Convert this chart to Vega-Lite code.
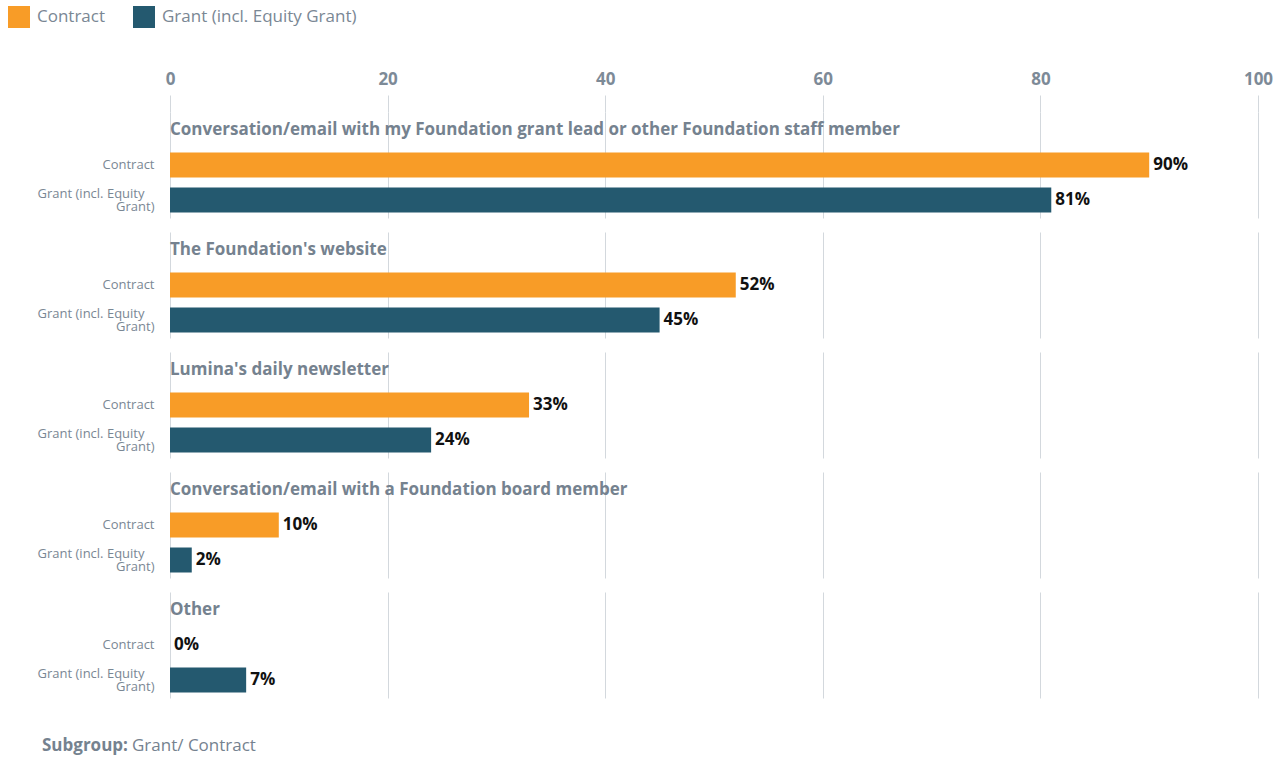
{
  "$schema": "https://vega.github.io/schema/vega-lite/v6.json",
  "padding": {"left": 8, "top": 6, "right": 0, "bottom": 0},
  "background": "white",
  "config": {
    "view": {"stroke": null},
    "font": "Open Sans",
    "concat": {"spacing": 26},
    "legend": {
      "orient": "none",
      "legendX": -162,
      "legendY": -106,
      "direction": "horizontal",
      "padding": 0,
      "symbolType": "square",
      "symbolSize": 484,
      "symbolStrokeWidth": 0,
      "labelFont": "Open Sans",
      "labelFontSize": 17,
      "labelColor": "#7a8794",
      "labelOffset": 7,
      "labelLimit": 0,
      "columnPadding": 27,
      "title": null
    }
  },
  "datasets": {
    "survey": [
      {"category": "Conversation/email with my Foundation grant lead or other Foundation staff member", "subgroup": "Contract", "value": 90},
      {"category": "Conversation/email with my Foundation grant lead or other Foundation staff member", "subgroup": "Grant (incl. Equity Grant)", "value": 81},
      {"category": "The Foundation's website", "subgroup": "Contract", "value": 52},
      {"category": "The Foundation's website", "subgroup": "Grant (incl. Equity Grant)", "value": 45},
      {"category": "Lumina's daily newsletter", "subgroup": "Contract", "value": 33},
      {"category": "Lumina's daily newsletter", "subgroup": "Grant (incl. Equity Grant)", "value": 24},
      {"category": "Conversation/email with a Foundation board member", "subgroup": "Contract", "value": 10},
      {"category": "Conversation/email with a Foundation board member", "subgroup": "Grant (incl. Equity Grant)", "value": 2},
      {"category": "Other", "subgroup": "Contract", "value": 0},
      {"category": "Other", "subgroup": "Grant (incl. Equity Grant)", "value": 7}
    ],
    "footer": [
      {"part": "Subgroup:", "style": "bold"},
      {"part": "Grant/ Contract", "style": "normal"}
    ]
  },
  "vconcat": [
    {
      "data": {"name": "survey"},
      "transform": [{"calculate": "datum.value + '%'", "as": "label"}],
      "facet": {
        "row": {
          "field": "category",
          "type": "nominal",
          "sort": [
            "Conversation/email with my Foundation grant lead or other Foundation staff member",
            "The Foundation's website",
            "Lumina's daily newsletter",
            "Conversation/email with a Foundation board member",
            "Other"
          ],
          "header": {"labels": false, "title": null},
          "title": null
        }
      },
      "spacing": 2,
      "spec": {
        "width": 1088,
        "height": 118,
        "encoding": {
          "y": {
            "field": "subgroup",
            "type": "nominal",
            "scale": {
              "domain": ["title", "Contract", "Grant (incl. Equity Grant)"],
              "range": [0, 106],
              "paddingInner": 0.2857,
              "paddingOuter": 0.157
            },
            "axis": {
              "title": null,
              "ticks": false,
              "domain": false,
              "grid": false,
              "labelPadding": 16,
              "minExtent": 162,
              "maxExtent": 162,
              "labelFont": "Open Sans",
              "labelFontSize": 13,
              "labelColor": "#7a8794",
              "labelLineHeight": 13,
              "labelOffset": {"condition": {"test": "datum.value == 'Grant (incl. Equity Grant)'", "value": -6}, "value": 0},
              "labelExpr": "datum.value == 'title' ? '' : (datum.value == 'Contract' ? 'Contract' : ['Grant (incl. Equity\u2800', 'Grant)'])"
            }
          },
          "x": {
            "field": "value",
            "type": "quantitative",
            "scale": {"domain": [0, 100], "nice": false},
            "axis": {
              "orient": "top",
              "title": null,
              "values": [0, 20, 40, 60, 80, 100],
              "domain": false,
              "grid": true,
              "gridColor": "#d3d8dd",
              "tickColor": "#d3d8dd",
              "tickSize": 17,
              "labelPadding": 7,
              "labelFont": "Open Sans",
              "labelFontSize": 17,
              "labelFontWeight": "bold",
              "labelColor": "#7d8a97",
              "labelFlush": false
            }
          }
        },
        "layer": [
          {
            "mark": {"type": "bar"},
            "encoding": {
              "color": {
                "field": "subgroup",
                "type": "nominal",
                "scale": {
                  "domain": ["Contract", "Grant (incl. Equity Grant)"],
                  "range": ["#F89C27", "#24596F"]
                },
                "legend": {"title": null}
              }
            }
          },
          {
            "mark": {"type": "text", "align": "left", "baseline": "middle", "dx": 4, "fontSize": 17, "fontWeight": "bold", "color": "#111111", "font": "Open Sans"},
            "encoding": {"text": {"field": "label"}}
          },
          {
            "transform": [{"filter": "datum.subgroup == 'Contract'"}],
            "mark": {"type": "text", "align": "left", "baseline": "middle", "fontSize": 17, "fontWeight": "bold", "color": "#75828f", "font": "Open Sans"},
            "encoding": {
              "y": {"datum": "title"},
              "x": {"datum": 0},
              "text": {"field": "category"}
            }
          }
        ]
      }
    },
    {
      "data": {"name": "footer"},
      "width": 90,
      "height": 20,
      "encoding": {
        "x": {
          "field": "part",
          "type": "nominal",
          "sort": ["Subgroup:", "Grant/ Contract"],
          "scale": {"type": "point", "padding": 0},
          "axis": null
        }
      },
      "layer": [
        {
          "transform": [{"filter": "datum.style == 'bold'"}],
          "mark": {"type": "text", "align": "left", "baseline": "middle", "dx": -128, "fontSize": 17, "fontWeight": "bold", "color": "#75828f", "font": "Open Sans"},
          "encoding": {"text": {"field": "part"}}
        },
        {
          "transform": [{"filter": "datum.style == 'normal'"}],
          "mark": {"type": "text", "align": "left", "baseline": "middle", "dx": -128, "fontSize": 17, "color": "#75828f", "font": "Open Sans"},
          "encoding": {"text": {"field": "part"}}
        }
      ]
    }
  ]
}
